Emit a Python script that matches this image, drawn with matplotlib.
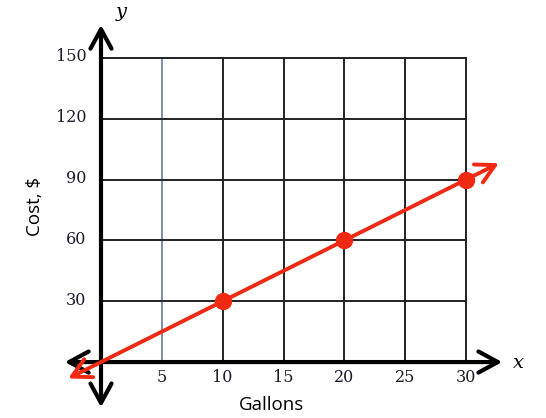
import matplotlib
matplotlib.use('Agg')
from matplotlib.pyplot import figure
from matplotlib.patches import FancyArrowPatch

# data
xticks = [5, 10, 15, 20, 25, 30]
yticks = [30, 60, 90, 120, 150]
gallons = [10, 20, 30]
cost = [30, 60, 90]
line_x = [-2.9, 32.9]   # ends of the red ray (with arrowheads)
rate = 3.0               # dollars per gallon

red = '#f02a12'
txtcol = '#1c1c2c'

fg = figure(figsize=(5.46, 4.18), dpi=100)
ax = fg.add_axes([0, 0, 1, 1])
ax.set_xlim(-8.3, 36.57)
ax.set_ylim(-27.6, 178.6)
ax.axis('off')

#%% grid
for xt in xticks:
    col = '#7f8fa8' if xt == 5 else '#222222'
    ax.plot([xt, xt], [0, yticks[-1]], color=col, lw=1.4, zorder=1)
for yt in yticks:
    ax.plot([0, xticks[-1]], [yt, yt], color='#222222', lw=1.4, zorder=1)

#%% axes with arrows
axstyle = '<->,head_length=0.7,head_width=0.38'
ax.add_patch(FancyArrowPatch((-3.2, 0), (33.2, 0), arrowstyle=axstyle,
                             mutation_scale=20, lw=3, color='black', zorder=2))
ax.add_patch(FancyArrowPatch((0, -23.7), (0, 167.7), arrowstyle=axstyle,
                             mutation_scale=20, lw=3, color='black', zorder=2))

#%% red line
ax.add_patch(FancyArrowPatch((line_x[0], rate*line_x[0]), (line_x[1], rate*line_x[1]),
                             arrowstyle='<->,head_length=0.75,head_width=0.4',
                             mutation_scale=18, lw=2.8, color=red, zorder=3))
ax.plot(gallons, cost, 'o', color=red, ms=11.5, zorder=4)

#%% labels
for xt in xticks:
    ax.text(xt, -7.6, str(xt), ha='center', va='center', fontsize=11.5,
            family='DejaVu Serif', color=txtcol)
for yt in yticks:
    ax.text(-1.2, yt + 0.5, str(yt), ha='right', va='center', fontsize=11.5,
            family='DejaVu Serif', color=txtcol)

ax.text(14.05, -21.2, 'Gallons', ha='center', va='center', fontsize=13.5, family='Open Sans')
ax.text(-5.4, 77, 'Cost, $', ha='center', va='center', rotation=90, fontsize=13.5, family='Open Sans')
ax.text(34.3, -0.5, 'x', ha='center', va='center', fontsize=14, style='italic', family='DejaVu Serif')
ax.text(1.7, 172.7, 'y', ha='center', va='center', fontsize=14, style='italic', family='DejaVu Serif')

fg.savefig('out.png', dpi=100)
